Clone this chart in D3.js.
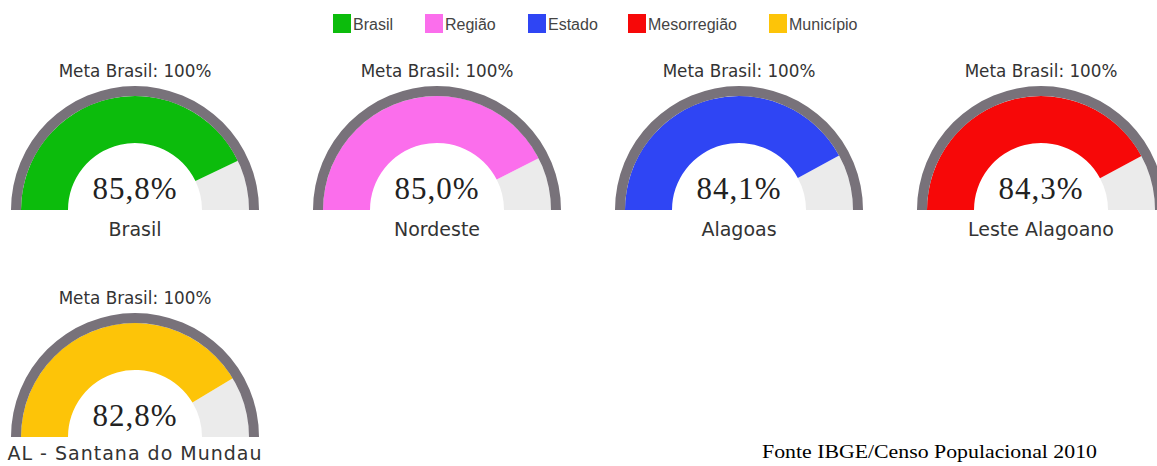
<!DOCTYPE html>
<html>
<head>
<meta charset="utf-8">
<script src="https://cdn.jsdelivr.net/npm/d3@7"></script>
<style>
  body { margin: 0; background: #fff; }
  svg { display: block; }
</style>
</head>
<body>
<div id="chart"></div>
<script>
'use strict';

// legend entries
const legend_names = ["Brasil", "Região", "Estado", "Mesorregião", "Município"];
const legend_colours = ["#0cbc0c", "#fb6eec", "#2f45f4", "#f70808", "#fdc408"];

// one gauge per area
const gauge_labels = ["Brasil", "Nordeste", "Alagoas", "Leste Alagoano", "AL - Santana do Mundau"];
const gauge_values = [85.8, 85.0, 84.1, 84.3, 82.8];
const gauge_values_text = ["85,8%", "85,0%", "84,1%", "84,3%", "82,8%"];
const meta_value = 100;
const meta_text = "Meta Brasil: 100%";
const source_text = "Fonte IBGE/Censo Populacional 2010";

const width = 1157;
const height = 466;

const svg = d3.select("#chart").append("svg")
  .attr("width", width)
  .attr("height", height);

/* Legend */
const legend_x = [333, 425, 528, 628, 769];
const leg = svg.append("g")
  .selectAll("g")
  .data(legend_names)
  .enter().append("g")
  .attr("transform", function(d, i) { return `translate(${legend_x[i]}, 14)`; });

leg.append("rect")
  .attr("width", 18)
  .attr("height", 19)
  .attr("fill", function(d, i) { return legend_colours[i]; });

leg.append("text")
  .attr("x", 20)
  .attr("y", 16)
  .attr("font-family", "Liberation Sans, Arial, sans-serif")
  .attr("font-size", 16)
  .attr("fill", "#444")
  .text(function(d) { return d; });

/* Gauges */
const angle = d3.scaleLinear().domain([0, meta_value]).range([-Math.PI / 2, Math.PI / 2]);

const r_inner = 67;
const r_fill = 114;
const r_outer = 124;

const arc_fill = d3.arc().innerRadius(r_inner).outerRadius(r_fill);
const arc_ring = d3.arc().innerRadius(r_fill).outerRadius(r_outer);

const col_x = [135, 437, 739, 1041];
const row_y = [210, 437];

const gauges = svg.append("g")
  .selectAll("g.gauge")
  .data(gauge_values)
  .enter().append("g")
  .attr("class", "gauge")
  .attr("transform", function(d, i) {
    return `translate(${col_x[i % 4]}, ${row_y[Math.floor(i / 4)]})`;
  });

// remainder (light grey)
gauges.append("path")
  .attr("fill", "#ebebeb")
  .attr("d", function(d) {
    return arc_fill({startAngle: angle(d), endAngle: angle(meta_value)});
  });

// value
gauges.append("path")
  .attr("fill", function(d, i) { return legend_colours[i]; })
  .attr("d", function(d) {
    return arc_fill({startAngle: angle(0), endAngle: angle(d)});
  });

// goal ring
gauges.append("path")
  .attr("fill", "#78727a")
  .attr("d", arc_ring({startAngle: angle(0), endAngle: angle(meta_value)}));

gauges.append("text")
  .attr("text-anchor", "middle")
  .attr("y", -133)
  .attr("font-family", "DejaVu Sans, Verdana, sans-serif")
  .attr("font-size", 16.8)
  .attr("fill", "#333")
  .text(meta_text);

gauges.append("text")
  .attr("text-anchor", "middle")
  .attr("y", -11)
  .attr("font-family", "Liberation Serif, Times New Roman, serif")
  .attr("font-size", 31)
  .attr("letter-spacing", 1)
  .attr("fill", "#222")
  .text(function(d, i) { return gauge_values_text[i]; });

gauges.append("text")
  .attr("text-anchor", "middle")
  .attr("y", function(d, i) { return i < 4 ? 26 : 23; })
  .attr("font-family", "DejaVu Sans, Verdana, sans-serif")
  .attr("font-size", 19)
  .attr("letter-spacing", function(d, i) { return i < 4 ? 0 : 1; })
  .attr("fill", "#333")
  .text(function(d, i) { return gauge_labels[i]; });

/* Source */
svg.append("text")
  .attr("x", 762)
  .attr("y", 458)
  .attr("font-family", "Liberation Serif, Times New Roman, serif")
  .attr("font-size", 19)
  .attr("textLength", 335)
  .attr("lengthAdjust", "spacingAndGlyphs")
  .attr("fill", "#000")
  .text(source_text);
</script>
</body>
</html>
